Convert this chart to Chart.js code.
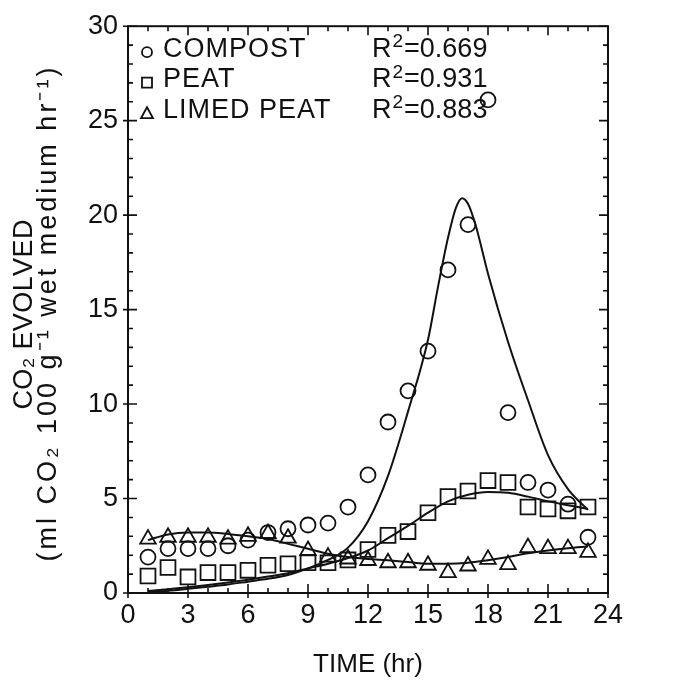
<!DOCTYPE html>
<html>
<head>
<meta charset="utf-8">
<script src="https://cdn.jsdelivr.net/npm/chart.js@4.4.1/dist/chart.umd.min.js"></script>
<style>
  body { margin: 0; background: #fff; }
  #wrap { width: 682px; height: 681px; }
</style>
</head>
<body>
<div id="wrap"><canvas id="co2Chart" width="682" height="681"></canvas></div>
<script>
// measured points, one per hour
const hours = [1, 2, 3, 4, 5, 6, 7, 8, 9, 10, 11, 12, 13, 14, 15, 16, 17, 18, 19, 20, 21, 22, 23];
const compost = [1.9, 2.35, 2.35, 2.35, 2.5, 2.8, 3.2, 3.4, 3.6, 3.7, 4.55, 6.25, 9.05, 10.7, 12.8, 17.1, 19.5, 26.1, 9.55, 5.85, 5.45, 4.7, 2.95];
const peat = [0.9, 1.35, 0.85, 1.08, 1.08, 1.2, 1.47, 1.55, 1.6, 1.6, 1.75, 2.3, 3.05, 3.25, 4.25, 5.1, 5.4, 5.95, 5.85, 4.55, 4.45, 4.35, 4.55];
const limedPeat = [2.85, 2.95, 2.95, 2.95, 2.85, 3.0, 3.15, 2.9, 2.25, 1.9, 1.8, 1.72, 1.6, 1.6, 1.47, 1.08, 1.43, 1.78, 1.5, 2.4, 2.35, 2.35, 2.15];

// fitted curves
const compostFitHours = [1, 2, 3, 4, 5, 6, 7, 8, 9, 10, 11, 12, 13, 14, 15, 15.5, 16, 16.4, 16.7, 17, 17.4, 18, 19, 20, 21, 22, 23];
const compostFit = [0.05, 0.12, 0.22, 0.33, 0.45, 0.6, 0.75, 0.95, 1.3, 1.75, 2.4, 3.8, 6.2, 9.6, 13.4, 16.2, 18.8, 20.4, 20.9, 20.6, 19.4, 16.9, 13.3, 10.2, 7.3, 5.5, 4.4];
const fitHours = [1, 2, 3, 4, 5, 6, 7, 8, 9, 10, 11, 12, 13, 14, 15, 16, 17, 18, 19, 20, 21, 22, 23];
const peatFit = [0.1, 0.2, 0.3, 0.42, 0.55, 0.7, 0.87, 1.05, 1.3, 1.55, 1.85, 2.25, 2.9, 3.55, 4.25, 4.85, 5.2, 5.35, 5.3, 5.1, 4.85, 4.65, 4.45];
const limedPeatFit = [2.8, 3.1, 3.2, 3.2, 3.12, 3.0, 2.86, 2.6, 2.34, 2.08, 1.9, 1.8, 1.73, 1.64, 1.55, 1.55, 1.6, 1.73, 1.9, 2.1, 2.25, 2.37, 2.46];

const legendRows = [
  { label: 'COMPOST', shape: 'circle', r2: '0.669' },
  { label: 'PEAT', shape: 'rect', r2: '0.931' },
  { label: 'LIMED PEAT', shape: 'triangle', r2: '0.883' }
];
const yTitleLines = ['CO\u2082 EVOLVED', '(ml CO\u2082 100 g\u207B\u00B9 wet medium hr\u207B\u00B9)'];

const FONT = '"Liberation Sans", Arial, sans-serif';
const INK = '#111';

function pairs(xs, ys) {
  return xs.map(function (x, i) { return { x: x, y: ys[i] }; });
}

function pointSet(label, ys, style, radius) {
  return {
    label: label,
    data: pairs(hours, ys),
    showLine: false,
    pointStyle: style,
    pointRadius: radius,
    pointBorderColor: INK,
    pointBackgroundColor: 'rgba(0,0,0,0)',
    pointBorderWidth: 1.8
  };
}

function fitSet(label, xs, ys) {
  return {
    label: label,
    data: pairs(xs, ys),
    showLine: true,
    borderColor: INK,
    borderWidth: 2,
    pointRadius: 0,
    cubicInterpolationMode: 'monotone',
    fill: false
  };
}

// draw text centred on x, spread to a given width (char by char)
function spreadText(ctx, text, cx, y, width) {
  const chars = Array.from(text);
  const widths = chars.map(function (c) { return ctx.measureText(c).width; });
  const total = widths.reduce(function (s, w) { return s + w; }, 0);
  const gap = (width - total) / Math.max(1, chars.length - 1);
  let x = cx - width / 2;
  chars.forEach(function (c, i) {
    ctx.fillText(c, x, y);
    x += widths[i] + gap;
  });
}

// frame with inward ticks on all four sides
const framePlugin = {
  id: 'frame',
  afterDraw: function (chart) {
    const ctx = chart.ctx;
    const a = chart.chartArea;
    const xs = chart.scales.x, ys = chart.scales.y;
    ctx.save();
    ctx.strokeStyle = INK;
    ctx.lineWidth = 2;
    ctx.strokeRect(a.left, a.top, a.right - a.left, a.bottom - a.top);
    ctx.lineWidth = 1.6;
    ctx.beginPath();
    for (let t = 0; t <= 24; t++) {
      const px = xs.getPixelForValue(t);
      const major = t % 3 === 0;
      const len = major ? 9 : 5;
      ctx.moveTo(px, a.bottom + (major ? 5 : 0));
      ctx.lineTo(px, a.bottom - len);
      ctx.moveTo(px, a.top);
      ctx.lineTo(px, a.top + len);
    }
    for (let v = 0; v <= 30; v++) {
      const py = ys.getPixelForValue(v);
      const major = v % 5 === 0;
      const len = major ? 9 : 5;
      ctx.moveTo(a.left - (major ? 5 : 0), py);
      ctx.lineTo(a.left + len, py);
      ctx.moveTo(a.right, py);
      ctx.lineTo(a.right - len, py);
    }
    ctx.stroke();

    // rotated y title, two lines
    const cy = (a.top + a.bottom) / 2 + 5;
    ctx.fillStyle = INK;
    ctx.textAlign = 'left';
    ctx.textBaseline = 'middle';
    ctx.font = '27px ' + FONT;
    ctx.translate(25, cy);
    ctx.rotate(-Math.PI / 2);
    spreadText(ctx, yTitleLines[0], 0, 0, 190);
    spreadText(ctx, yTitleLines[1], 0, 24, 494);
    ctx.restore();
  }
};

// legend with R² column
const legendPlugin = {
  id: 'r2legend',
  afterDraw: function (chart) {
    const ctx = chart.ctx;
    const a = chart.chartArea;
    ctx.save();
    ctx.strokeStyle = INK;
    ctx.fillStyle = INK;
    ctx.lineWidth = 1.8;
    ctx.textBaseline = 'middle';
    legendRows.forEach(function (row, i) {
      const cy = a.top + 26 + i * 30.5;
      const sx = a.left + 19;
      ctx.beginPath();
      if (row.shape === 'circle') {
        ctx.arc(sx, cy, 5, 0, Math.PI * 2);
      } else if (row.shape === 'rect') {
        ctx.rect(sx - 5, cy - 5, 10, 10);
      } else {
        ctx.moveTo(sx, cy - 6);
        ctx.lineTo(sx + 6, cy + 5);
        ctx.lineTo(sx - 6, cy + 5);
        ctx.closePath();
      }
      ctx.stroke();
      ctx.font = '27px ' + FONT;
      ctx.letterSpacing = '1px';
      ctx.fillText(row.label, a.left + 35, cy - 3);
      ctx.letterSpacing = '0px';
      let rx = a.left + 244;
      ctx.fillText('R', rx, cy - 3);
      rx += ctx.measureText('R').width + 1;
      ctx.font = '19px ' + FONT;
      ctx.fillText('2', rx, cy - 10);
      rx += ctx.measureText('2').width + 1;
      ctx.font = '27px ' + FONT;
      ctx.fillText('=' + row.r2, rx, cy - 3);
    });
    ctx.restore();
  }
};

new Chart(document.getElementById('co2Chart').getContext('2d'), {
  type: 'scatter',
  data: {
    datasets: [
      fitSet('COMPOST fit', compostFitHours, compostFit),
      fitSet('PEAT fit', fitHours, peatFit),
      fitSet('LIMED PEAT fit', fitHours, limedPeatFit),
      pointSet('COMPOST', compost, 'circle', 7.5),
      pointSet('PEAT', peat, 'rect', 10.5),
      pointSet('LIMED PEAT', limedPeat, 'triangle', 9)
    ]
  },
  options: {
    responsive: false,
    animation: false,
    layout: { padding: { top: 20, right: 74, left: 0, bottom: 0 } },
    scales: {
      x: {
        min: 0, max: 24,
        grid: { display: false, drawTicks: false },
        border: { display: false },
        ticks: { stepSize: 3, color: INK, padding: 6, font: { family: FONT, size: 27 } },
        title: { display: true, text: 'TIME (hr)', color: INK, padding: { top: 0, bottom: 1 }, font: { family: FONT, size: 26 } },
        afterFit: function (s) { s.height = 88; }
      },
      y: {
        min: 0, max: 30,
        grid: { display: false, drawTicks: false },
        border: { display: false },
        ticks: { stepSize: 5, color: INK, padding: 10, font: { family: FONT, size: 27 } },
        title: { display: false },
        afterFit: function (s) { s.width = 128; }
      }
    },
    plugins: {
      legend: { display: false },
      tooltip: { enabled: false }
    }
  },
  plugins: [framePlugin, legendPlugin]
});
</script>
</body>
</html>
